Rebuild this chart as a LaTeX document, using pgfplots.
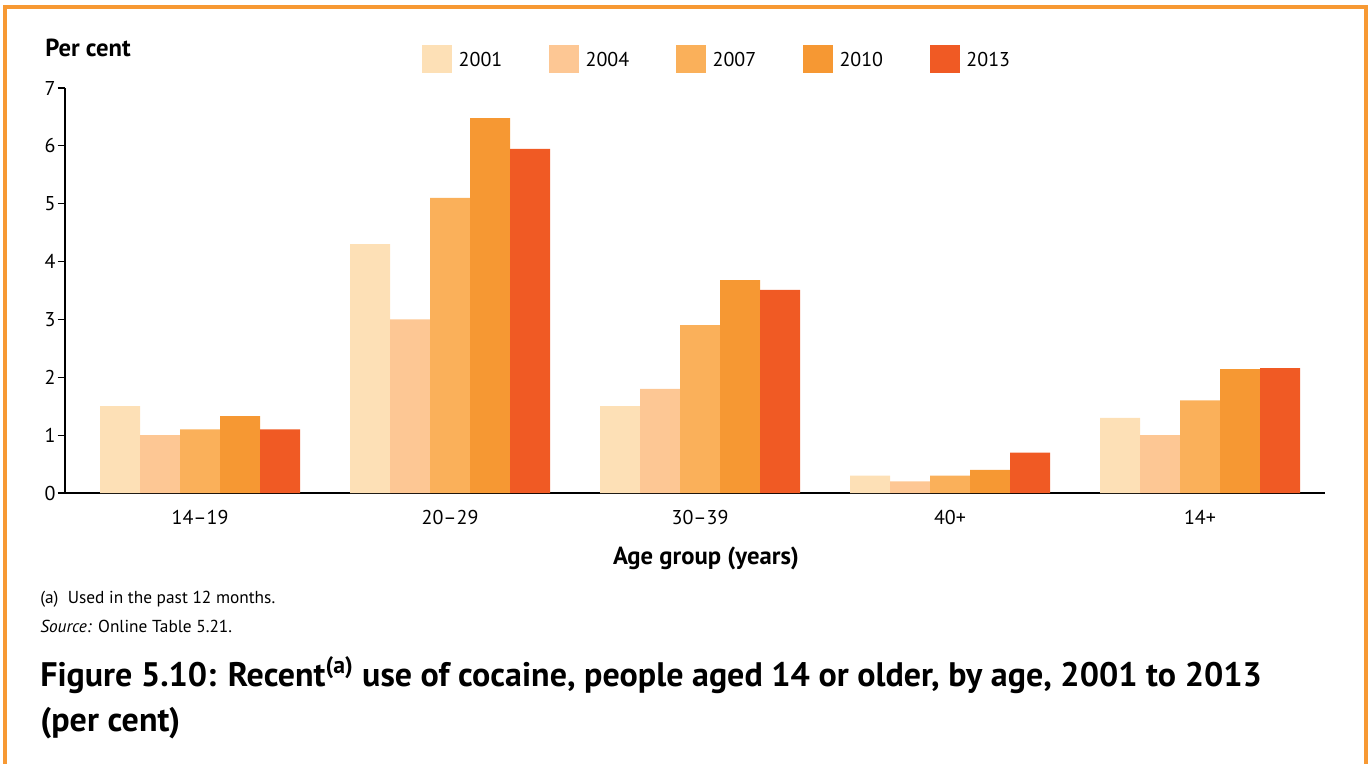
\documentclass[border=0pt]{standalone}
\usepackage{pgfplots}
\pgfplotsset{compat=1.18}
\usepackage{fontspec}
\setmainfont{PT Sans}
\definecolor{cA}{RGB}{253,224,182}
\definecolor{cB}{RGB}{253,199,148}
\definecolor{cC}{RGB}{250,176,90}
\definecolor{cD}{RGB}{246,152,51}
\definecolor{cE}{RGB}{240,90,36}
\definecolor{frameC}{RGB}{247,153,51}
\newcommand\PP[2]{({#1*0.75pt},{-#2*0.75pt})}
\newcommand\LE[1]{\raisebox{4.2pt}[0pt][0pt]{#1}}
\begin{document}
\begin{tikzpicture}
\useasboundingbox \PP{0}{0} rectangle \PP{1372}{764};
\begin{scope}
\clip \PP{0}{0} rectangle \PP{1372}{764};
\draw[line width=3.5pt,frameC] \PP{5}{7} rectangle \PP{1366}{800};
\end{scope}
\begin{axis}[
  at={(48.75pt,-369.75pt)}, anchor=south west,
  scale only axis, width=945pt, height=303.75pt,
  xmin=-0.54, xmax=4.5, ymin=0, ymax=7,
  ybar=0pt, bar width=30pt,
  axis x line*=bottom, axis y line*=left,
  axis line style={-},
  x axis line style={line width=1.8pt, black},
  y axis line style={line width=0.8pt, black},
  xtick={0,1,2,3,4},
  xticklabels={14--19,20--29,30--39,40+,14+},
  xtick style={draw=none},
  ytick={0,1,...,7},
  ytick style={line width=0.8pt, black},
  tick align=outside, major tick length=5.5pt,
  tick label style={font=\fontsize{15}{18}\selectfont},
  /pgf/number format/assume math mode=true,
  yticklabel style={xshift=2pt},
  xticklabel style={yshift=-4pt},
  legend columns=5,
  legend style={at={(0.280,1.113)}, anchor=north west, draw=none, fill=none,
    font=\fontsize{15}{18}\selectfont,
    /tikz/every even column/.append style={column sep=30pt},
    nodes={inner xsep=5pt, inner ysep=0pt}},
  legend image code/.code={\fill[#1,draw=none] (0pt,0pt) rectangle (22.5pt,21pt);},
  every axis plot/.append style={draw=none},
]
\addplot[fill=cA] coordinates {(0,1.5) (1,4.3) (2,1.5) (3,0.3) (4,1.3)};
\addplot[fill=cB] coordinates {(0,1.0) (1,3.0) (2,1.8) (3,0.2) (4,1.0)};
\addplot[fill=cC] coordinates {(0,1.1) (1,5.1) (2,2.9) (3,0.3) (4,1.6)};
\addplot[fill=cD] coordinates {(0,1.33) (1,6.48) (2,3.68) (3,0.4) (4,2.14)};
\addplot[fill=cE] coordinates {(0,1.1) (1,5.95) (2,3.51) (3,0.7) (4,2.16)};
\legend{\LE{2001},\LE{2004},\LE{2007},\LE{2010},\LE{2013}}
\end{axis}
\node[anchor=base west,inner sep=0pt,font=\bfseries\fontsize{18.5}{22}\selectfont] at \PP{45}{56} {Per cent};
\node[anchor=base,inner sep=0pt,font=\bfseries\fontsize{18.5}{22}\selectfont] at \PP{706}{564} {Age group (years)};
\node[anchor=base west,inner sep=0pt,font=\fontsize{13}{15}\selectfont] at \PP{40}{603} {(a)\ \ Used in the past 12 months.};
\node[anchor=base west,inner sep=0pt,font=\fontsize{13}{15}\selectfont] at \PP{40}{632} {\textit{Source:} Online Table 5.21.};
\node[anchor=base west,inner sep=0pt,font=\bfseries\fontsize{25.5}{30}\selectfont] at \PP{40}{686} {Figure 5.10: Recent\textsuperscript{(a)} use of cocaine, people aged 14 or older, by age, 2001 to 2013};
\node[anchor=base west,inner sep=0pt,font=\bfseries\fontsize{25.5}{30}\selectfont] at \PP{40}{731} {(per cent)};
\end{tikzpicture}
\end{document}
